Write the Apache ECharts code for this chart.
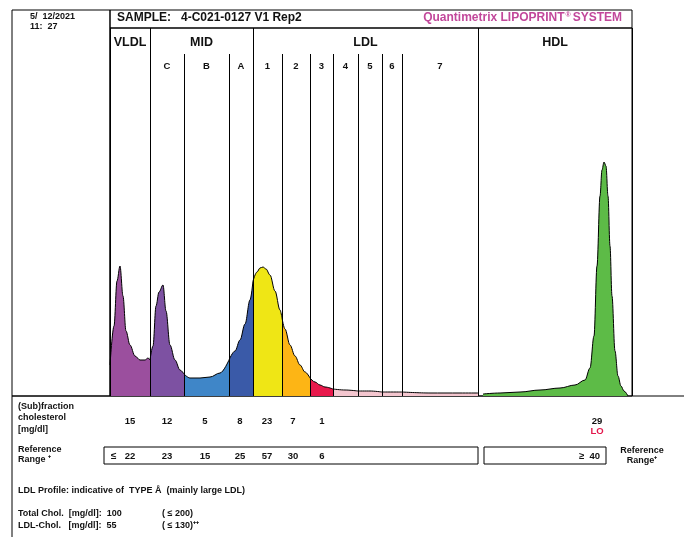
<!DOCTYPE html>
<html><head><meta charset="utf-8">
<script src="https://cdn.jsdelivr.net/npm/echarts@6/dist/echarts.min.js"></script>
<style>html,body{margin:0;background:#fff}#c{width:684px;height:537px}</style>
</head><body><div id="c"></div>
<script>
// densitometry scan: x = migration position, y = absorbance (arbitrary)
var curveX = [110,114,117,120,123,126,130,135,140,145,148,150,153,156,159,163,166,170,175,180,184,190,200,210,220,229,235,240,245,250,253,257,260,263,266,270,275,280,282,285,290,295,300,305,310,315,320,325,333,345,358,370,382,392,402,430,460,478];
var curveY = [31,70,115,130,100,65,51,40,36,36,38,36,50,90,104,111,85,51,36,26,22,18,18,19,23,36,45,56,72,96,115,124,128,129,127,121,105,86,78,67,51,40,31,24,18,14,11,9,7,6,5,5,4,4,4,3,3,3];
var hdlX = [483,500,520,540,560,575,585,590,594,597,600,602,604,606,608,610,612,615,618,621,624,628];
var hdlY = [2,3,4,6,8,11,16,28,60,130,200,226,234,230,200,150,100,45,20,10,5,0];

var fractionNames = ['VLDL','C','B','A','1','2','3','4','5','6','7'];
var fractionEdges = [110,150,184,229,253,282,310,333,358,382,402,478];
var fractionColors = ['#9b4f9e','#7d51a2','#3f86c8','#3a5aa8','#efe615','#fdb515','#e8194c','#f4c6cf','#f4c6cf','#f4c6cf','#f4c6cf'];
var groupNames = ['VLDL','MID','LDL','HDL'];
var groupEdges = [110,150,253,478,632];
var subValues = ['15','12','5','8','23','7','1'];
var refValues = ['22','23','15','25','57','30','6'];
var hdlValue = '29', hdlFlag = 'LO', hdlRef = '40';

var series = [];
for (var i = 0; i < fractionNames.length; i++) {
  var pts = [];
  for (var j = 0; j < curveX.length; j++) {
    if (curveX[j] >= fractionEdges[i] && curveX[j] <= fractionEdges[i + 1]) pts.push([curveX[j], curveY[j]]);
  }
  series.push({type:'line', data:pts, symbol:'none', silent:true, smooth:0.35, smoothMonotone:'x',
    lineStyle:{color:'#000', width:1}, areaStyle:{color:fractionColors[i], opacity:1}});
}
series.push({type:'line', data:hdlX.map(function(x,k){return [x,hdlY[k]];}), symbol:'none', smooth:0.35, smoothMonotone:'x',
  lineStyle:{color:'#000', width:1}, areaStyle:{color:'#5dbb47', opacity:1}});

var lines = [];
groupEdges.forEach(function(x){ lines.push([{coord:[x,0]},{coord:[x,368]}]); });
fractionEdges.slice(1,-1).forEach(function(x){
  if (groupEdges.indexOf(x) < 0) lines.push([{coord:[x,0]},{coord:[x,342]}]);
});
series.push({type:'line', data:[], markLine:{symbol:'none', silent:true, label:{show:false},
  lineStyle:{color:'#000', width:1, type:'solid'}, data:lines}});

var chart = echarts.init(document.getElementById('c'));
chart.setOption({
  animation:false,
  grid:{left:110, right:52, top:28, height:368},
  xAxis:{type:'value', min:110, max:632, show:false},
  yAxis:{type:'value', min:0, max:368, show:false},
  series:series
});

function px(x){ return chart.convertToPixel({xAxisIndex:0}, x); }
var F = 'Liberation Sans, Arial, sans-serif';
function t(x,y,s,o){ o=o||{}; return {type:'text', x:x, y:y, style:{text:s, font:(o.w||'bold')+' '+(o.s||10)+'px '+F, fill:o.c||'#111', align:o.a||'left', verticalAlign:'middle'}}; }
var g = [];
g.push({type:'rect', shape:{x:12,y:10,width:620,height:386}, style:{fill:'none', stroke:'#000', lineWidth:1}});
g.push({type:'line', shape:{x1:110,y1:10,x2:110,y2:396}, style:{stroke:'#000', lineWidth:1.5}});
g.push({type:'line', shape:{x1:110,y1:28,x2:632,y2:28}, style:{stroke:'#000', lineWidth:1.5}});
g.push({type:'line', shape:{x1:12,y1:396,x2:684,y2:396}, style:{stroke:'#000', lineWidth:1}});
g.push({type:'line', shape:{x1:12,y1:396,x2:12,y2:537}, style:{stroke:'#000', lineWidth:1}});
g.push(t(30,17,'5/  12/2021',{s:9}), t(30,27,'11:  27',{s:9}));
g.push(t(117,18,'SAMPLE:   4-C021-0127 V1 Rep2',{s:12}));
g.push({type:'text', x:622, y:18, style:{rich:{a:{font:'bold 12px '+F, fill:'#c2489b'}, b:{font:'bold 7px '+F, fill:'#c2489b', verticalAlign:'top', padding:[0,2,6,1]}}, text:'{a|Quantimetrix LIPOPRINT}{b|®}{a|SYSTEM}', align:'right', verticalAlign:'middle'}});
for (var k = 0; k < groupNames.length; k++) {
  g.push(t((px(groupEdges[k]) + px(groupEdges[k+1])) / 2, 43, groupNames[k], {s:12.5, a:'center'}));
}
for (var k = 1; k < fractionNames.length; k++) {
  g.push(t((px(fractionEdges[k]) + px(fractionEdges[k+1])) / 2, 66, fractionNames[k], {s:9.5, a:'center'}));
}
g.push(t(18,407,'(Sub)fraction',{s:9}), t(18,418,'cholesterol',{s:9}), t(18,430,'[mg/dl]',{s:9}));
var valX = [130,167,205,240,267,293,322];
subValues.forEach(function(v,k){ g.push(t(valX[k],421,v,{s:9.5,a:'center'})); });
g.push(t(597,421,hdlValue,{s:9.5,a:'center'}), t(597,431,hdlFlag,{s:9.5,a:'center',c:'#e3174b'}));
g.push(t(18,450,'Reference',{s:9}), t(18,460,'Range \u207A',{s:9}));
g.push({type:'rect', shape:{x:104,y:447,width:374,height:17}, style:{fill:'none', stroke:'#000', lineWidth:1}});
g.push({type:'rect', shape:{x:484,y:447,width:122,height:17}, style:{fill:'none', stroke:'#000', lineWidth:1}});
g.push(t(111,456,'\u2264',{s:10}));
refValues.forEach(function(v,k){ g.push(t(valX[k],456,v,{s:9.5,a:'center'})); });
g.push(t(600,456,'\u2265  ' + hdlRef,{s:9.5,a:'right'}));
g.push(t(642,451,'Reference',{s:9,a:'center'}), t(642,461,'Range\u207A',{s:9,a:'center'}));
g.push(t(18,491,'LDL Profile: indicative of  TYPE \u00C5  (mainly large LDL)',{s:9}));
g.push(t(18,514,'Total Chol.  [mg/dl]:  100',{s:9}), t(162,514,'( \u2264 200)',{s:9}));
g.push(t(18,526,'LDL-Chol.   [mg/dl]:  55',{s:9}), t(162,526,'( \u2264 130)\u207A\u207A',{s:9}));
chart.setOption({graphic:g});
</script></body></html>
